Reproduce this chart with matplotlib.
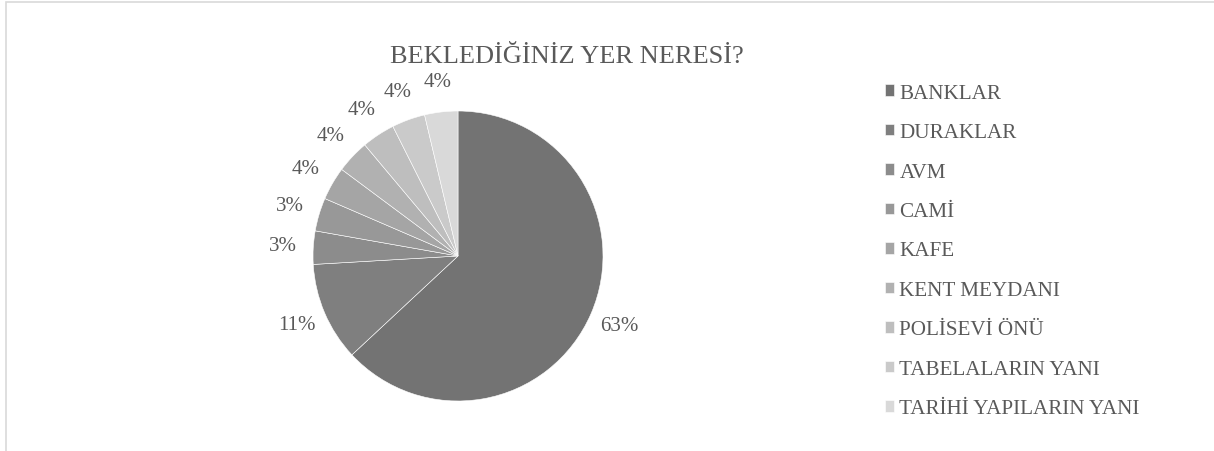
import matplotlib.pyplot as plt
from matplotlib.patches import Rectangle

plt.rcParams['font.family'] = ['Liberation Serif', 'DejaVu Serif']

categories = ['BANKLAR', 'DURAKLAR', 'AVM', 'CAMİ', 'KAFE', 'KENT MEYDANI',
              'POLİSEVİ ÖNÜ', 'TABELALARIN YANI', 'TARİHİ YAPILARIN YANI']
shares = [63, 11, 3.7, 3.7, 3.7, 3.7, 3.7, 3.7, 3.7]
pct_labels = ['63%', '11%', '3%', '3%', '4%', '4%', '4%', '4%', '4%']
colors = ['#737373', '#7f7f7f', '#8c8c8c', '#989898', '#a5a5a5',
          '#b1b1b1', '#bebebe', '#cacaca', '#d9d9d9']

text_color = '#595959'
W, H = 1214, 452

fig = plt.figure(figsize=(W / 100, H / 100), dpi=100)

# pie centre ~ (458, 257) px, radius ~145 px
cx, cy, r = 458, 257, 145
ax = fig.add_axes([(cx - r) / W, (H - cy - r) / H, 2 * r / W, 2 * r / H])
wedges, texts = ax.pie(shares, colors=colors, startangle=90, counterclock=False,
                       labels=pct_labels, labeldistance=1.21,
                       wedgeprops=dict(edgecolor='white', linewidth=0.4),
                       textprops=dict(color=text_color, fontsize=15))
for t in texts:
    t.set_ha('center')
    t.set_va('center')
ax.set_xlim(-1, 1)
ax.set_ylim(-1, 1)
ax.set_aspect('equal')

fig.text(567 / W, 1 - 63 / H, 'BEKLEDİĞİNİZ YER NERESİ?', ha='center',
         va='baseline', fontsize=19, color=text_color)

leg = fig.legend(wedges, categories, loc='upper left',
                 bbox_to_anchor=(874 / W, 1 - 74 / H), frameon=False,
                 fontsize=15.2, handlelength=0.45, handleheight=0.45,
                 handletextpad=0.25, labelspacing=0.97, borderpad=0,
                 labelcolor=text_color)

# chart area border (only top and left edges visible)
fig.add_artist(Rectangle((5.5 / W, -0.2), 1.2, 1.2 - 2.5 / H,
                         transform=fig.transFigure, fill=False,
                         edgecolor='#d9d9d9', linewidth=1.2))

fig.savefig('out.png', dpi=100)
